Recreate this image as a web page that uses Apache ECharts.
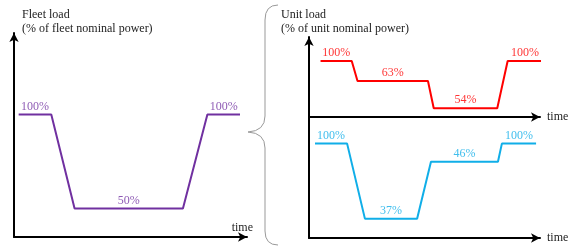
<!DOCTYPE html>
<html>
<head>
<meta charset="utf-8">
<script src="https://cdn.jsdelivr.net/npm/echarts@6/dist/echarts.min.js"></script>
<style>
  html, body { margin: 0; padding: 0; background: #fff; }
  #chart { width: 579px; height: 247px; }
</style>
</head>
<body>
<div id="chart"></div>
<script>
// schematic time axis (0-100) and drawn load levels (0-100 of panel height)
const fleetTime = [2, 16, 26, 72.5, 83, 97]
const fleetLevel = [60, 60, 14, 14, 60, 60]
const fleetLabels = ['100%', '50%', '100%']

const unitATime = [5, 18.5, 21, 51.5, 54, 81.5, 86, 101]
const unitALevel = [70, 70, 45, 45, 11, 11, 70, 70]
const unitALabels = ['100%', '63%', '54%', '100%']

const unitBTime = [2.6, 16.5, 24.2, 46.8, 52.8, 81.8, 83.5, 98.3]
const unitBLevel = [78, 78, 16, 16, 63, 63, 78, 78]
const unitBLabels = ['100%', '37%', '46%', '100%']

const FONT = '"Liberation Serif", "DejaVu Serif", serif'

const pairs = (xs, ys) => xs.map((x, i) => [x, ys[i]])
// label sits over the middle of each flat step
const plateauLabels = (xs, ys, labels) => labels.map((txt, k) => ({
    name: txt,
    value: [(xs[2 * k] + xs[2 * k + 1]) / 2, ys[2 * k]]
}))

const lineSeries = (idx, xs, ys, color) => ({
    type: 'line',
    xAxisIndex: idx,
    yAxisIndex: idx,
    data: pairs(xs, ys),
    showSymbol: false,
    clip: false,
    silent: true,
    lineStyle: {color: color, width: 2}
})
const labelSeries = (idx, xs, ys, labels, color) => ({
    type: 'scatter',
    xAxisIndex: idx,
    yAxisIndex: idx,
    symbolSize: 0,
    silent: true,
    data: plateauLabels(xs, ys, labels),
    label: {
        show: true,
        position: 'top',
        distance: 2,
        formatter: '{b}',
        color: color,
        fontFamily: FONT,
        fontSize: 12
    }
})

const axisLine = (arrow) => ({
    show: true,
    lineStyle: {color: '#000', width: 2},
    symbol: arrow ? ['none', 'arrow'] : 'none',
    symbolSize: [7, 9]
})
const xAxisOf = (idx, nameInside) => ({
    type: 'value',
    gridIndex: idx,
    min: 0,
    max: 100,
    axisLine: axisLine(true),
    axisTick: {show: false},
    axisLabel: {show: false},
    splitLine: {show: false},
    name: 'time',
    nameLocation: 'end',
    nameGap: nameInside ? 6 : 7,
    nameTextStyle: nameInside
        ? {fontFamily: FONT, fontSize: 12, color: '#222', align: 'right', verticalAlign: 'bottom', padding: [0, 0, 3, 0]}
        : {fontFamily: FONT, fontSize: 12, color: '#222'}
})
const yAxisOf = (idx, arrow) => ({
    type: 'value',
    gridIndex: idx,
    min: 0,
    max: 100,
    axisLine: axisLine(arrow),
    axisTick: {show: false},
    axisLabel: {show: false},
    splitLine: {show: false}
})

// curly brace between the two halves
const braceStyle = {stroke: '#999', lineWidth: 1, fill: 'none'}
const brace = [
    {type: 'bezierCurve', shape: {x1: 278, y1: 5, cpx1: 265, cpy1: 5, x2: 265, y2: 20}},
    {type: 'line', shape: {x1: 265, y1: 20, x2: 265, y2: 116}},
    {type: 'bezierCurve', shape: {x1: 265, y1: 116, cpx1: 265, cpy1: 131, x2: 248, y2: 132}},
    {type: 'bezierCurve', shape: {x1: 248, y1: 132, cpx1: 265, cpy1: 133, x2: 265, y2: 148}},
    {type: 'line', shape: {x1: 265, y1: 148, x2: 265, y2: 231}},
    {type: 'bezierCurve', shape: {x1: 265, y1: 231, cpx1: 265, cpy1: 245, x2: 278, y2: 245}}
].map(el => Object.assign(el, {style: braceStyle, silent: true}))

const option = {
    animation: false,
    backgroundColor: '#fff',
    grid: [
        {left: 14, top: 33, width: 233, height: 204},
        {left: 309, top: 37, width: 231, height: 80},
        {left: 309, top: 117, width: 231, height: 121}
    ],
    xAxis: [xAxisOf(0, true), xAxisOf(1, false), xAxisOf(2, false)],
    yAxis: [yAxisOf(0, true), yAxisOf(1, true), yAxisOf(2, false)],
    series: [
        lineSeries(0, fleetTime, fleetLevel, '#7030a0'),
        labelSeries(0, fleetTime, fleetLevel, fleetLabels, '#7030a0'),
        lineSeries(1, unitATime, unitALevel, '#ff0000'),
        labelSeries(1, unitATime, unitALevel, unitALabels, '#ff0000'),
        lineSeries(2, unitBTime, unitBLevel, '#10aee8'),
        labelSeries(2, unitBTime, unitBLevel, unitBLabels, '#10aee8')
    ],
    graphic: [
        {
            type: 'text', left: 22, top: 8,
            style: {text: 'Fleet load\n(% of fleet nominal power)', font: '12px ' + FONT, fill: '#222', lineHeight: 14}
        },
        {
            type: 'text', left: 281, top: 8,
            style: {text: 'Unit load\n(% of unit nominal power)', font: '12px ' + FONT, fill: '#222', lineHeight: 14}
        }
    ].concat(brace)
}

const chart = echarts.init(document.getElementById('chart'), null, {renderer: 'canvas'})
chart.setOption(option)
</script>
</body>
</html>
